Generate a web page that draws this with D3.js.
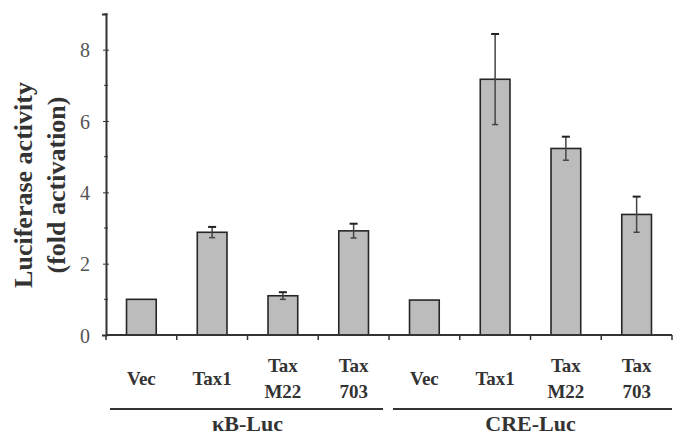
<!DOCTYPE html>
<html lang="en">
<head>
  <meta charset="UTF-8">
  <title>Luciferase activity</title>
  <script src="https://d3js.org/d3.v7.min.js"></script>
  <style>
    body { margin: 0; background: #fff; }
    svg { display: block; }
  </style>
</head>
<body>
  <div id="chart"></div>
  <script>
    // data
    const groups = ["κB-Luc", "CRE-Luc"];
    const categories = [["Vec"], ["Tax1"], ["Tax", "M22"], ["Tax", "703"]];
    const means = [1.0, 2.88, 1.1, 2.92, 0.98, 7.17, 5.23, 3.38];
    const errors = [0, 0.15, 0.1, 0.2, 0, 1.27, 0.33, 0.5];
    const yTicks = [0, 2, 4, 6, 8];

    const serif = "'Times New Roman', 'Liberation Serif', 'DejaVu Serif', serif";
    const width = 680, height = 438;
    const margin = { top: 14, right: 8, bottom: 103, left: 106 };

    const rows = means.map((m, i) => ({
      key: i,
      group: groups[Math.floor(i / categories.length)],
      label: categories[i % categories.length],
      value: m,
      err: errors[i]
    }));

    const svg = d3.select("#chart").append("svg")
      .attr("width", width)
      .attr("height", height)
      .attr("font-family", serif);

    const x = d3.scaleBand()
      .domain(rows.map(d => d.key))
      .range([margin.left, width - margin.right])
      .paddingInner(0.58).paddingOuter(0.29);

    const y = d3.scaleLinear()
      .domain([0, 9])
      .range([height - margin.bottom, margin.top]);

    // bars
    svg.selectAll("rect.bar")
      .data(rows)
      .enter()
      .append("rect")
      .attr("class", "bar")
      .attr("x", d => x(d.key))
      .attr("y", d => y(d.value))
      .attr("width", x.bandwidth())
      .attr("height", d => y(0) - y(d.value))
      .style("fill", "#bcbcbc")
      .style("stroke", "#262626")
      .style("stroke-width", 1.6);

    // error bars
    const eb = svg.selectAll("g.err")
      .data(rows.filter(d => d.err > 0))
      .enter()
      .append("g")
      .attr("class", "err")
      .attr("transform", d => `translate(${x(d.key) + x.bandwidth() / 2},0)`);
    eb.append("line")
      .attr("y1", d => y(d.value - d.err))
      .attr("y2", d => y(d.value + d.err))
      .style("stroke", "#444").style("stroke-width", 1.5);
    eb.append("line")
      .attr("x1", -4).attr("x2", 4)
      .attr("y1", d => y(d.value + d.err)).attr("y2", d => y(d.value + d.err))
      .style("stroke", "#222").style("stroke-width", 2);
    eb.append("line")
      .attr("x1", -3).attr("x2", 3)
      .attr("y1", d => y(d.value - d.err)).attr("y2", d => y(d.value - d.err))
      .style("stroke", "#444").style("stroke-width", 1.5);

    // y axis
    const yAxis = svg.append("g")
      .attr("transform", `translate(${margin.left},0)`)
      .call(d3.axisLeft(y).tickValues(yTicks).tickSize(4).tickPadding(12).tickFormat(d3.format("d")));
    yAxis.attr("font-family", serif);
    yAxis.select(".domain").style("stroke", "#333").style("stroke-width", 2);
    yAxis.selectAll(".tick line").style("stroke", "#333").attr("x2", 3).attr("x1", -3);
    yAxis.selectAll("text")
      .attr("dy", "0.35em")
      .style("font-size", "20px")
      .style("fill", "#555");
    // minor ticks at odd values
    yAxis.selectAll("line.minor")
      .data([1, 3, 5, 7, 9])
      .enter()
      .append("line")
      .attr("class", "minor")
      .attr("x1", -2).attr("x2", 2)
      .attr("y1", d => y(d)).attr("y2", d => y(d))
      .style("stroke", "#333");

    // x axis line with ticks between bars
    const x0 = margin.left, x1 = width - margin.right;
    const edge = i => x0 + (x1 - x0) * i / rows.length;
    svg.append("line")
      .attr("x1", x0).attr("x2", x1)
      .attr("y1", y(0)).attr("y2", y(0))
      .style("stroke", "#333").style("stroke-width", 2);
    svg.selectAll("line.xtick")
      .data(d3.range(rows.length + 1))
      .enter()
      .append("line")
      .attr("class", "xtick")
      .attr("x1", edge).attr("x2", edge)
      .attr("y1", y(0)).attr("y2", y(0) + 5)
      .style("stroke", "#333").style("stroke-width", 1.5);

    // category labels
    const labs = svg.selectAll("text.cat")
      .data(rows)
      .enter()
      .append("text")
      .attr("class", "cat")
      .attr("text-anchor", "middle")
      .style("font-size", "19px")
      .style("font-weight", "bold")
      .style("fill", "#333")
      .attr("x", d => x(d.key) + x.bandwidth() / 2)
      .attr("y", d => d.label.length > 1 ? 372 : 385);
    labs.selectAll("tspan")
      .data(d => d.label.map(t => ({ t, cx: x(d.key) + x.bandwidth() / 2 })))
      .enter()
      .append("tspan")
      .attr("x", d => d.cx)
      .attr("dy", (d, i) => i === 0 ? 0 : 26)
      .text(d => d.t);

    // group underlines and labels
    const perGroup = categories.length;
    groups.forEach((g, gi) => {
      const a = edge(gi * perGroup), b = edge((gi + 1) * perGroup);
      svg.append("line")
        .attr("x1", a + 4).attr("x2", b - (gi === groups.length - 1 ? 0 : 6))
        .attr("y1", 409).attr("y2", 409)
        .style("stroke", "#333").style("stroke-width", 2);
      svg.append("text")
        .attr("x", (a + b) / 2)
        .attr("y", 431)
        .attr("text-anchor", "middle")
        .style("font-size", "22px")
        .style("font-weight", "bold")
        .style("fill", "#333")
        .text(g);
    });

    // y title
    const yt = svg.append("text")
      .attr("transform", `translate(0,185) rotate(-90)`)
      .attr("text-anchor", "middle")
      .style("font-size", "26px")
      .style("font-weight", "bold")
      .style("fill", "#333");
    yt.append("tspan").attr("x", 0).attr("y", 32).text("Luciferase activity");
    yt.append("tspan").attr("x", 0).attr("y", 65).text("(fold activation)");
  </script>
</body>
</html>
